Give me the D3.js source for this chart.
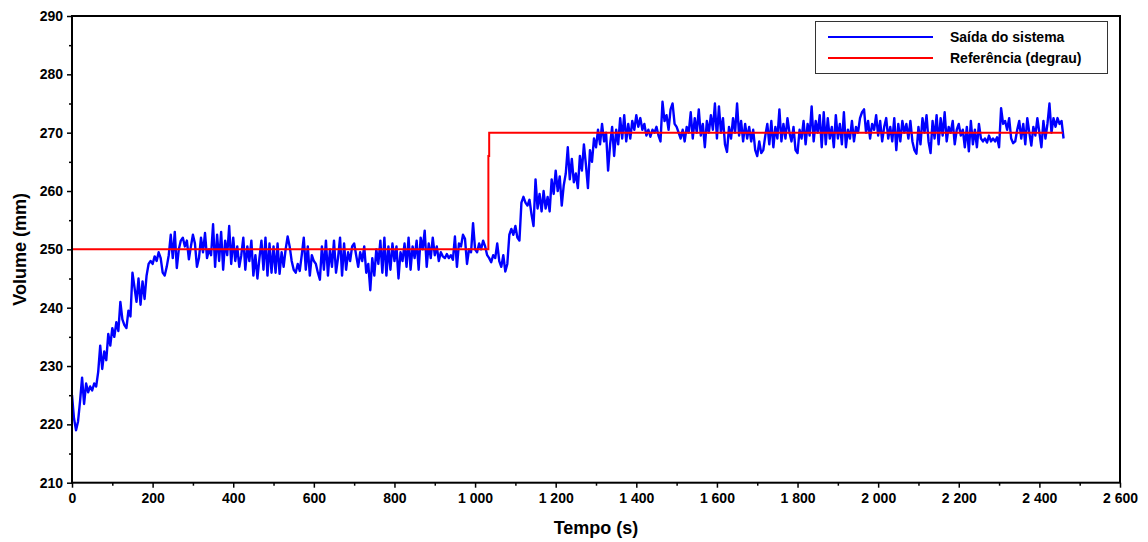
<!DOCTYPE html>
<html><head><meta charset="utf-8">
<script src="https://cdn.jsdelivr.net/npm/d3@7"></script>
<style>body{margin:0;background:#fff}svg{display:block}text{font-family:"Liberation Sans",Arial,sans-serif;font-weight:bold;fill:#000}</style>
</head><body>
<svg id="c" width="1148" height="542"></svg>
<script>
// ---- data ----
const sampleStep = 5; // seconds between samples of the system output
const outputValues = [
225,221,219,220.5,224,228,223.5,227,225.5,226.5,225.8,227,226.5,229,233.5,229.5,232.5,231,235.5,233.5,
236.5,235,237.5,236,241,238,237,236.5,239.5,238.5,246,243.5,241,245,240.5,244.5,241.5,245.5,247.5,248,
247.5,248.8,248,249.5,248.5,246,245.5,247,249,252.5,248.5,253,246.8,250,251.5,252,250.5,251.5,248.3,250.5,
252.5,251,247,248.5,252,249.5,252.8,248.5,250,249,254.3,247,252.5,248,253,246.5,251.5,249,254,247.5,
252,248,250.5,247,249,252,246.5,250.5,248,251.5,245.5,249,245,248.5,251.5,246.5,252,245.5,251,246,
250.5,246,251,245.8,249.5,247,250,252.2,250.5,248,246.5,246,247.5,246.3,249,252,246.5,250.5,245.5,249,
248,247.5,246,244.8,250.5,246.5,251.5,245.5,250,247,251.5,246,248.5,252,245.5,251,246.5,249.5,248,250.5,
251,249,247,249.5,248,250.5,246,247.5,243,248.5,245.5,250,247.5,251.5,246,252,245.5,250.5,246.5,251,
248,250.5,245,249.5,248,251,247,252,246.5,250.5,248.5,251.5,246.5,252,250,253.2,247,251,248.5,252,
249,250.5,248,249.5,248.8,248.5,249.2,248.5,249,248.2,252.2,247,251,250.5,252.5,251.8,247.5,250,249.5,254.5,
250,249.5,251,250,251.5,250.5,249,248.5,247.8,249,248.5,251,248,247,249,246.2,247.5,252.5,253.5,252.5,
254,252,251.5,258,259,258,257.5,258.5,256,254,262,257,259.5,256.5,260,257,259,256.5,262,259.5,
263.5,260,262.5,257.5,261,263,267.5,262,265.5,261.5,263,260.5,266,263.5,268,264.5,260.5,267,265,269,
267.5,270.5,268,271.5,268.5,270,263.5,268,271,266,270.5,268,272.5,269,273,268.5,271.5,269,272,270.5,
273,271,272.5,270.5,271.5,269.5,270.5,269.3,270.5,270,271,269.5,268.5,275.3,272,273,270.5,274,275,271.5,
271,270,269,270.5,268.5,271,270,273.5,269,272.5,270,274,269.5,271.5,267.5,272,270,273,270.5,275,
269,274.5,270,272.5,268,266.7,271,269,272.5,270,275,269.5,272,268.5,271.5,269,271,268.5,270.5,267,
266,268.5,266.5,267,269.5,271.5,268,272,267.5,271,269,274,268.5,271.5,269,272.5,270,268.5,271,267,
266.5,270.5,269,272,268,271.5,269.5,274.5,268.5,272,270,273,267.5,273.5,268,272.5,269,271,267.5,273,
269,271.5,268,273.5,267.5,270.5,269,272,268.5,271,270,272.5,273.5,274,270,272,269,271.5,270.5,273,
269.5,272,268.5,271,272.5,269,271,268.5,272.5,267,271.5,268.5,272,270,271.5,269,272,268.5,267,266.4,
271,268,272.5,270,273,268.5,266.5,272,269,273,268,272.5,269.5,273.5,268.5,271,270,272,268,270.5,
271.5,269.5,270.5,267.5,271,266.8,272,268,270.5,267.5,271.5,269,268.5,269,268.3,269.5,268.5,269,268.5,269.2,
267.5,274.2,271.5,272,270.5,272.5,269,268.2,268.5,270.5,272,269,271.5,268,272.5,270,267.8,271,269.5,272.5,
270,267.5,272,269,271.5,275,270,272.5,271,272.5,271.5,272,269
];
const referenceTimes  = [0, 1033, 1033, 1035, 1035, 2458];
const referenceValues = [250, 250, 266, 266, 270, 270];
const xTicks = [0,200,400,600,800,1000,1200,1400,1600,1800,2000,2200,2400,2600];
const yTicks = [210,220,230,240,250,260,270,280,290];
const seriesNames = ["Saída do sistema", "Referência (degrau)"];
const xTitle = "Tempo (s)", yTitle = "Volume (mm)";

// ---- chart ----
const svg = d3.select("#c");
const L = 72, R = 1120, T = 16, B = 482.7;
const x = d3.scaleLinear().domain([0,2600]).range([L,R]);
const y = d3.scaleLinear().domain([210,290]).range([B,T]);
const fmt = d3.formatLocale({decimal:".",thousands:" ",grouping:[3],currency:["",""]}).format(",d");

const output = outputValues.map((v,i)=>({t:i*sampleStep,v}));
const reference = referenceTimes.map((t,i)=>({t,v:referenceValues[i]}));

svg.append("clipPath").attr("id","clip").append("rect").attr("x",L).attr("y",T).attr("width",R-L).attr("height",B-T);
const line = d3.line().x(d=>x(d.t)).y(d=>y(d.v));
const g = svg.append("g").attr("clip-path","url(#clip)");
g.append("path").datum(output).attr("d",line).attr("fill","none").attr("stroke","#0000ff").attr("stroke-width",2.4).attr("stroke-linejoin","round");
g.append("path").datum(reference).attr("d",line).attr("fill","none").attr("stroke","#ff0000").attr("stroke-width",2);

// minor ticks
const xMinor = d3.range(100,2600,200), yMinor = d3.range(215,290,10);
svg.append("g").attr("transform",`translate(0,${B})`).call(d3.axisBottom(x).tickValues(xMinor).tickSize(3).tickFormat(""))
  .call(a=>{a.select(".domain").remove();a.selectAll("line").attr("stroke-width",1.5);});
svg.append("g").attr("transform",`translate(${L},0)`).call(d3.axisLeft(y).tickValues(yMinor).tickSize(3).tickFormat(""))
  .call(a=>{a.select(".domain").remove();a.selectAll("line").attr("stroke-width",1.5);});
// major ticks
const xa = svg.append("g").attr("transform",`translate(0,${B})`).call(d3.axisBottom(x).tickValues(xTicks).tickSize(5).tickPadding(5).tickFormat(fmt));
xa.select(".domain").remove();
xa.selectAll("line").attr("stroke-width",1.5);
xa.selectAll("text").attr("font-size",14).attr("font-family","Liberation Sans, Arial").attr("font-weight","bold").attr("fill","#000");
const ya = svg.append("g").attr("transform",`translate(${L},0)`).call(d3.axisLeft(y).tickValues(yTicks).tickSize(5).tickPadding(4));
ya.select(".domain").remove();
ya.selectAll("line").attr("stroke-width",1.5);
ya.selectAll("text").attr("font-size",14).attr("font-family","Liberation Sans, Arial").attr("font-weight","bold").attr("fill","#000");

// frame
svg.append("rect").attr("x",L).attr("y",T).attr("width",R-L).attr("height",B-T).attr("fill","none").attr("stroke","#000").attr("stroke-width",2);

// titles
svg.append("text").attr("x",(L+R)/2).attr("y",534).attr("text-anchor","middle").attr("font-size",18).text(xTitle);
svg.append("text").attr("transform",`translate(26,${(T+B)/2}) rotate(-90)`).attr("text-anchor","middle").attr("font-size",18).text(yTitle);

// legend
const lg = svg.append("g");
lg.append("rect").attr("x",815.5).attr("y",21.5).attr("width",292).attr("height",52).attr("fill","#fff").attr("stroke","#333").attr("stroke-width",1);
const colors = ["#0000ff","#ff0000"];
seriesNames.forEach((n,i)=>{
  const yy = 37 + i*21;
  lg.append("line").attr("x1",828).attr("x2",933).attr("y1",yy).attr("y2",yy).attr("stroke",colors[i]).attr("stroke-width",2);
  lg.append("text").attr("x",950).attr("y",yy+5).attr("font-size",14).text(n);
});
</script>
</body></html>
